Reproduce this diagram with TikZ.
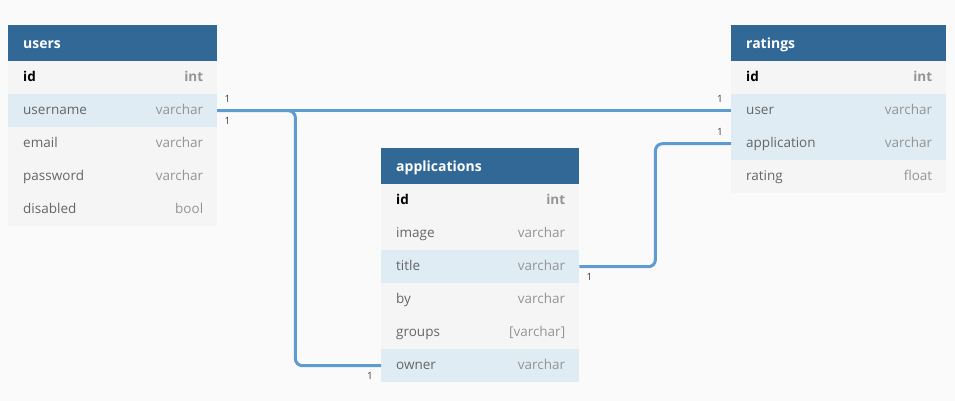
\documentclass[tikz,border=0pt]{standalone}
\usepackage{fontspec}
\setmainfont{Open Sans}
\usetikzlibrary{calc}
\definecolor{pagebg}{HTML}{FAFAFA}
\definecolor{headbg}{HTML}{316896}
\definecolor{rowbg}{HTML}{F5F5F5}
\definecolor{keybg}{HTML}{DFECF4}
\definecolor{linkblue}{HTML}{5E9BD0}
\definecolor{fieldgray}{HTML}{666666}
\definecolor{typegray}{HTML}{959595}
\tikzset{
  row/.style={rectangle, inner sep=0pt, minimum height=33pt, anchor=north west},
  head/.style={rectangle, inner sep=0pt, minimum height=36pt, anchor=north west, fill=headbg},
  txt/.style={inner sep=0pt, text height=0.75em, text depth=0.25em, yshift=-1.5pt, font=\fontsize{13.5}{15}\selectfont},
  field/.style={txt, anchor=west, text=fieldgray},
  type/.style={txt, anchor=east, text=typegray},
  link/.style={line width=3pt, draw=linkblue, rounded corners=7pt},
  card/.style={inner sep=0pt, text=black!75, font=\fontsize{10}{11}\selectfont}
}
% #1 node name, #2 width, #3 fill, #4 north west corner, #5 field, #6 type
\newcommand{\dbrow}[6]{%
  \node[row, minimum width=#2pt, fill=#3] (#1) at (#4) {};
  \node[field] at ([xshift=15pt]#1.west) {#5};
  \node[type] at ([xshift=-14pt]#1.east) {#6};
}
% #1 node name, #2 width, #3 north west corner, #4 title
\newcommand{\dbhead}[4]{%
  \node[head, minimum width=#2pt] (#1) at (#3) {};
  \node[txt, anchor=west, text=white, yshift=-1pt, font=\fontsize{14}{15}\selectfont\bfseries] at ([xshift=15pt]#1.west) {#4};
}

\begin{document}
\begin{tikzpicture}[x=1pt,y=-1pt]
  %%%%% START %%%%%
  \fill[pagebg] (0,0) rectangle (955,401);
  \useasboundingbox (0,0) rectangle (955,401);

  % users
  \dbhead{users}{209}{8,25}{users}
  \node[row, minimum width=209pt, fill=rowbg] (users-id) at (8,61) {};
  \node[txt, anchor=west, font=\fontsize{13.5}{15}\selectfont\bfseries] at ([xshift=15pt]users-id.west) {id};
  \node[type, font=\fontsize{13.5}{15}\selectfont\bfseries] at ([xshift=-14pt]users-id.east) {int};
  \dbrow{users-username}{209}{keybg}{8,94}{username}{varchar}
  \dbrow{users-email}{209}{rowbg}{8,127}{email}{varchar}
  \dbrow{users-password}{209}{rowbg}{8,160}{password}{varchar}
  \dbrow{users-disabled}{209}{rowbg}{8,193}{disabled}{bool}

  % ratings
  \dbhead{ratings}{215}{731,25}{ratings}
  \node[row, minimum width=215pt, fill=rowbg] (ratings-id) at (731,61) {};
  \node[txt, anchor=west, font=\fontsize{13.5}{15}\selectfont\bfseries] at ([xshift=15pt]ratings-id.west) {id};
  \node[type, font=\fontsize{13.5}{15}\selectfont\bfseries] at ([xshift=-14pt]ratings-id.east) {int};
  \dbrow{ratings-user}{215}{keybg}{731,94}{user}{varchar}
  \dbrow{ratings-application}{215}{keybg}{731,127}{application}{varchar}
  \dbrow{ratings-rating}{215}{rowbg}{731,160}{rating}{float}

  % applications
  \dbhead{apps}{198}{381,148}{applications}
  \node[row, minimum width=198pt, fill=rowbg] (apps-id) at (381,184) {};
  \node[txt, anchor=west, font=\fontsize{13.5}{15}\selectfont\bfseries] at ([xshift=15pt]apps-id.west) {id};
  \node[type, font=\fontsize{13.5}{15}\selectfont\bfseries] at ([xshift=-14pt]apps-id.east) {int};
  \dbrow{apps-image}{198}{rowbg}{381,217}{image}{varchar}
  \dbrow{apps-title}{198}{keybg}{381,250}{title}{varchar}
  \dbrow{apps-by}{198}{rowbg}{381,283}{by}{varchar}
  \dbrow{apps-groups}{198}{rowbg}{381,316}{groups}{[varchar]}
  \dbrow{apps-owner}{198}{keybg}{381,349}{owner}{varchar}

  % references
  \draw[link] (users-username.east) -- (ratings-user.west);
  \draw[link] (users-username.east) -- ++(78,0) |- (apps-owner.west);
  \draw[link] (apps-title.east) -- ++(76,0) |- (ratings-application.west);

  \node[card] at ([xshift=10pt,yshift=11.5pt]users-username.east) {1};
  \node[card] at ([xshift=10pt,yshift=-10.5pt]users-username.east) {1};
  \node[card] at ([xshift=-11pt,yshift=11.5pt]ratings-user.west) {1};
  \node[card] at ([xshift=-11pt,yshift=11.5pt]ratings-application.west) {1};
  \node[card] at ([xshift=10pt,yshift=-10.5pt]apps-title.east) {1};
  \node[card] at ([xshift=-11pt,yshift=-10.5pt]apps-owner.west) {1};
  %%%%% END %%%%%
\end{tikzpicture}
\end{document}
